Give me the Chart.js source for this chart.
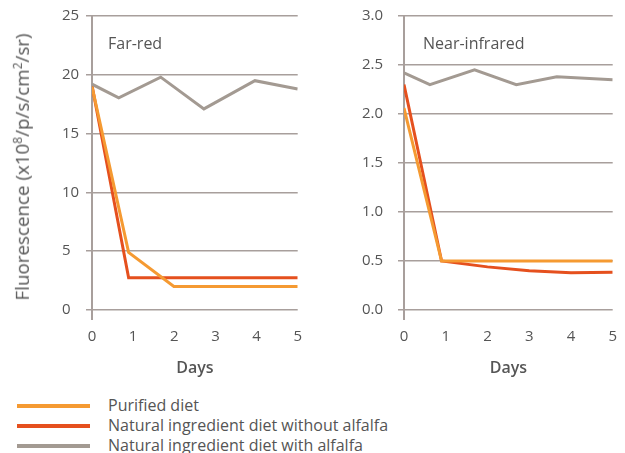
<!DOCTYPE html>
<html>
<head>
<meta charset="utf-8">
<script src="https://cdn.jsdelivr.net/npm/chart.js@4/dist/chart.umd.min.js"></script>
<style>
  body { margin: 0; background: #fff; font-family: "Open Sans", sans-serif; color: #555; }
  #wrap { position: relative; width: 625px; height: 453px; }
  canvas { position: absolute; top: 0; }
  #leftChart { left: 0; }
  #rightChart { left: 320px; }
  .panel { position: absolute; top: 32px; font-size: 16px; }
  #yTitle {
    position: absolute; left: 22px; top: 167px; font-size: 18.8px; white-space: nowrap;
    transform: translate(-50%, -50%) rotate(-90deg);
  }
  #legend { position: absolute; left: 17px; top: 395px; font-size: 16px; }
  .row { position: relative; height: 20px; line-height: 20px; }
  .row span.sw { position: absolute; left: 0; top: 9px; width: 73px; height: 4px; }
  .row span.tx { position: absolute; left: 91px; top: 0; white-space: nowrap; }
</style>
</head>
<body>
<div id="wrap">
  <canvas id="leftChart" width="310" height="380"></canvas>
  <canvas id="rightChart" width="305" height="380"></canvas>
  <div id="yTitle">Fluorescence (x10<sup style="font-size:12px">8</sup>/p/s/cm<sup style="font-size:12px">2</sup>/sr)</div>
  <div class="panel" style="left:108px">Far-red</div>
  <div class="panel" style="left:423px">Near-infrared</div>
  <div id="legend"></div>
</div>
<script>
"use strict";

// series names and colours
const seriesNames  = ["Purified diet", "Natural ingredient diet without alfalfa", "Natural ingredient diet with alfalfa"];
const seriesColors = ["#f59a32", "#e5501e", "#a39a92"];

// x axis ticks (days)
const dayTicks = [0, 1, 2, 3, 4, 5];

// Far-red panel
const farRedTicks = [0, 5, 10, 15, 20, 25];
const farPurifiedDays = [0, 0.89, 1.99, 5];
const farPurifiedVals = [19, 4.9, 2.0, 2.0];
const farNoAlfDays = [0, 0.89, 5];
const farNoAlfVals = [19.1, 2.75, 2.75];
const farAlfDays = [0, 0.65, 1.67, 2.72, 3.96, 5];
const farAlfVals = [19.2, 18.05, 19.8, 17.1, 19.5, 18.8];

// Near-infrared panel
const nirTicks = [0, 0.5, 1.0, 1.5, 2.0, 2.5, 3.0];
const nirPurifiedDays = [0, 0.9, 5];
const nirPurifiedVals = [2.06, 0.5, 0.5];
const nirNoAlfDays = [0, 0.9, 2, 3, 4, 5];
const nirNoAlfVals = [2.3, 0.5, 0.44, 0.40, 0.38, 0.385];
const nirAlfDays = [0, 0.62, 1.69, 2.69, 3.66, 5];
const nirAlfVals = [2.42, 2.30, 2.45, 2.30, 2.38, 2.35];

const gridColor = "#a89f9c";
const textColor = "#555";
const fontFamily = "'Open Sans'";

function pts(xs, ys) {
  return xs.map((x, i) => ({ x: x, y: ys[i] }));
}

function makeDataset(idx, xs, ys) {
  return {
    label: seriesNames[idx],
    data: pts(xs, ys),
    borderColor: seriesColors[idx],
    borderWidth: 3,
    pointRadius: 0,
    fill: false,
    tension: 0
  };
}

function makeChart(id, datasets, yTicks, yFmt, padLeft, yWidth, padRight) {
  return new Chart(document.getElementById(id), {
    type: "line",
    data: { datasets: datasets },
    options: {
      responsive: false,
      animation: false,
      layout: { padding: { left: padLeft, top: 16, right: padRight, bottom: 0 } },
      plugins: { legend: { display: false }, tooltip: { enabled: false } },
      scales: {
        x: {
          type: "linear",
          min: dayTicks[0],
          max: dayTicks[dayTicks.length - 1],
          afterBuildTicks: s => { s.ticks = dayTicks.map(v => ({ value: v })); },
          afterFit: s => { s.height = 70; },
          border: { display: false },
          grid: {
            color: c => (c.tick && c.tick.value === 0 ? gridColor : "transparent"),
            lineWidth: 2,
            tickLength: 10
          },
          ticks: { color: textColor, font: { family: fontFamily, size: 15 }, padding: 8, maxRotation: 0 },
          title: {
            display: true, text: "Days", color: textColor,
            font: { family: fontFamily, size: 16, weight: "600" },
            padding: { top: 0, bottom: 2 }
          }
        },
        y: {
          min: yTicks[0],
          max: yTicks[yTicks.length - 1],
          afterBuildTicks: s => { s.ticks = yTicks.map(v => ({ value: v })); },
          afterFit: s => { s.width = yWidth; },
          border: { display: false },
          grid: { color: gridColor, lineWidth: 1.5, tickLength: 6 },
          ticks: {
            color: textColor, font: { family: fontFamily, size: 15 }, crossAlign: "far",
            callback: v => yFmt(v)
          }
        }
      }
    }
  });
}

makeChart("leftChart", [
  makeDataset(2, farAlfDays, farAlfVals),
  makeDataset(0, farPurifiedDays, farPurifiedVals),
  makeDataset(1, farNoAlfDays, farNoAlfVals)
], farRedTicks, v => String(v), 62, 30, 9);

makeChart("rightChart", [
  makeDataset(2, nirAlfDays, nirAlfVals),
  makeDataset(0, nirPurifiedDays, nirPurifiedVals),
  makeDataset(1, nirNoAlfDays, nirNoAlfVals)
], nirTicks, v => v.toFixed(1), 42, 42, 12.3);

// legend
const legend = document.getElementById("legend");
seriesNames.forEach((name, i) => {
  const row = document.createElement("div");
  row.className = "row";
  row.innerHTML = '<span class="sw" style="background:' + seriesColors[i] + '"></span><span class="tx">' + name + '</span>';
  legend.appendChild(row);
});
</script>
</body>
</html>
